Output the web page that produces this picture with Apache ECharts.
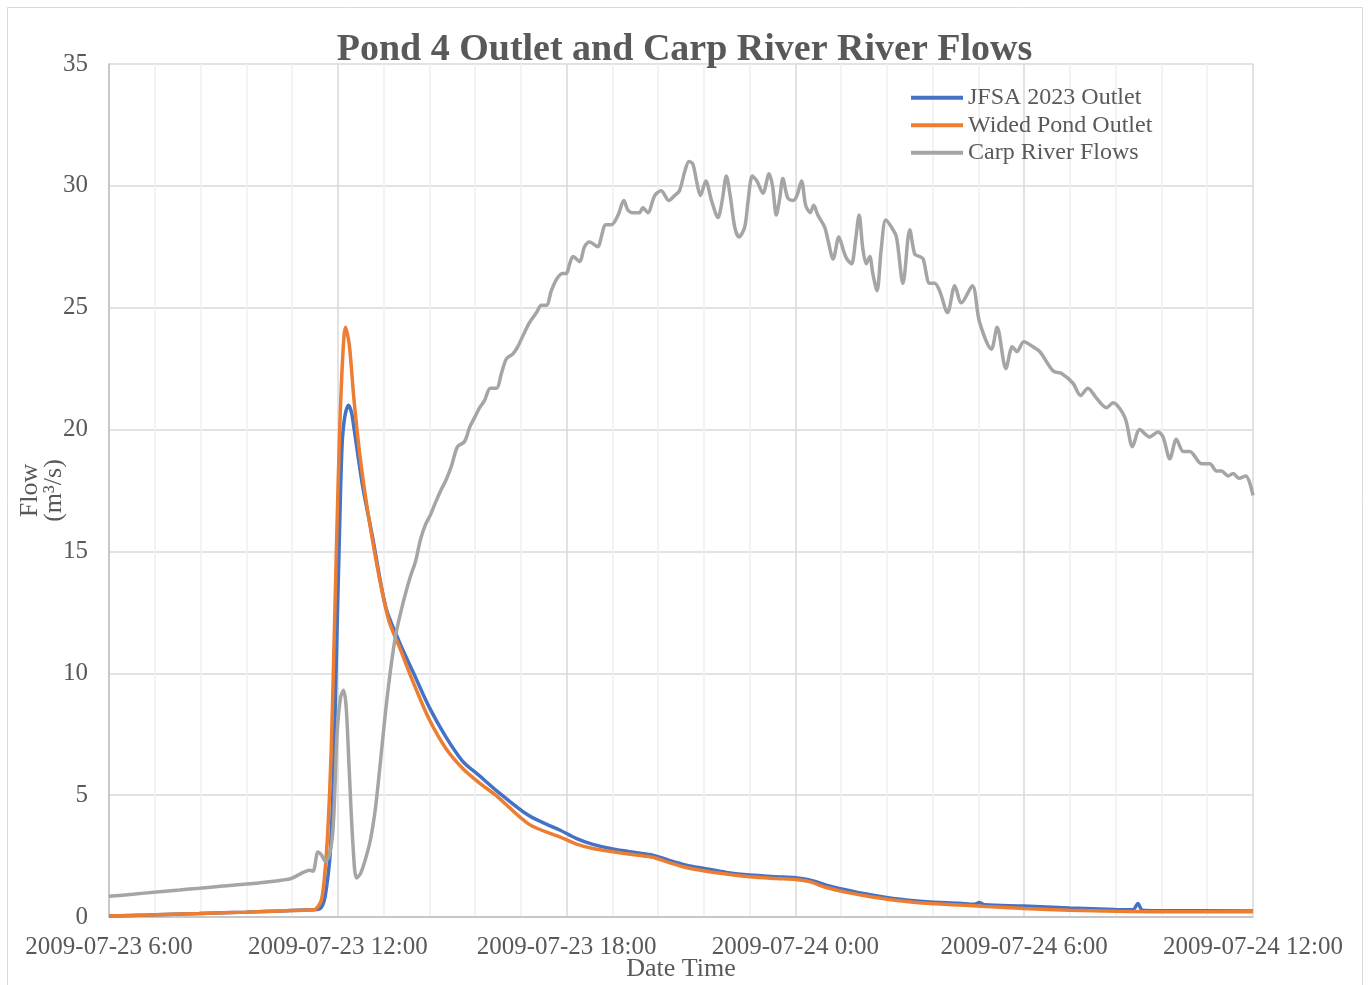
<!DOCTYPE html>
<html>
<head>
<meta charset="utf-8">
<title>Pond 4 Outlet and Carp River River Flows</title>
<script src="https://cdn.jsdelivr.net/npm/echarts@6/dist/echarts.min.js"></script>
<style>
  html, body { margin: 0; padding: 0; background: #ffffff; }
  #chart { width: 1369px; height: 985px; }
</style>
</head>
<body>
<div id="chart"></div>
<script>
// Time is in hours after 2009-07-23 06:00; flows in m³/s.
const xTickLabels = ['2009-07-23 6:00', '2009-07-23 12:00', '2009-07-23 18:00',
  '2009-07-24 0:00', '2009-07-24 6:00', '2009-07-24 12:00'];

const jfsaHours = [0, 1.0, 2.37, 3.6, 4.52, 5.35, 5.5, 5.63, 5.72, 5.8, 5.88, 5.96, 6.04, 6.11, 6.18,
  6.28, 6.36, 6.43, 6.65, 6.91, 7.26, 7.61, 7.96, 8.4, 8.83, 9.27, 9.71, 10.15, 11.02, 11.82,
  12.25, 12.69, 13.21, 13.83, 14.26, 14.62, 15.14, 15.58, 16.19, 16.8, 17.5, 18.0, 18.37, 18.81,
  19.34, 19.86, 20.56, 21.43, 22.3, 22.7, 22.83, 22.96, 23.99, 25.19, 26.39, 26.85, 26.98, 27.1,
  27.63, 30];
const jfsaFlow = [0.04, 0.08, 0.14, 0.2, 0.25, 0.3, 0.32, 0.6, 1.4, 2.6, 5.5, 10.5, 15.5, 19.3, 20.5,
  21.0, 20.7, 20.0, 17.7, 15.6, 12.7, 11.3, 10.1, 8.6, 7.4, 6.4, 5.8, 5.2, 4.15, 3.57,
  3.23, 2.98, 2.79, 2.64, 2.54, 2.36, 2.13, 2.0, 1.83, 1.72, 1.65, 1.61, 1.52, 1.31,
  1.11, 0.94, 0.76, 0.63, 0.56, 0.52, 0.6, 0.5, 0.45, 0.37, 0.31, 0.3, 0.55, 0.28,
  0.26, 0.25];

const widedHours = [0, 1.0, 2.37, 3.6, 4.52, 5.35, 5.43, 5.57, 5.66, 5.74, 5.82, 5.89, 5.97, 6.05, 6.13,
  6.2, 6.3, 6.42, 6.59, 6.81, 7.08, 7.35, 7.61, 7.96, 8.4, 8.84, 9.27, 9.71, 10.14, 11.02,
  11.82, 12.26, 12.69, 13.22, 13.83, 14.26, 14.61, 15.14, 15.58, 16.19, 16.8, 17.5, 18.0, 18.37,
  18.81, 19.34, 19.86, 20.56, 21.43, 22.31, 23.0, 24.0, 25.2, 26.4, 27.6, 30];
const widedFlow = [0.04, 0.08, 0.14, 0.2, 0.25, 0.3, 0.33, 0.7, 1.8, 3.6, 6.5, 10.5, 15.5, 20.0, 23.0,
  24.2, 23.5, 21.3, 18.8, 16.4, 14.0, 12.1, 11.1, 9.7, 8.1, 6.9, 6.1, 5.5, 5.0, 3.8,
  3.29, 2.99, 2.81, 2.68, 2.54, 2.45, 2.27, 2.03, 1.9, 1.76, 1.65, 1.58, 1.54, 1.45,
  1.21, 1.01, 0.86, 0.7, 0.56, 0.49, 0.43, 0.35, 0.28, 0.24, 0.22, 0.22];

const carpHours = [0, 0.62, 1.24, 1.85, 2.37, 2.98, 3.6, 4.21, 4.52, 4.78, 5.08, 5.26, 5.35, 5.48, 5.57,
  5.68, 5.78, 5.87, 5.93, 5.98, 6.07, 6.15, 6.22, 6.3, 6.4, 6.49, 6.6, 6.73, 6.86, 6.99,
  7.12, 7.25, 7.38, 7.51, 7.65, 7.78, 7.91, 8.04, 8.17, 8.3, 8.43, 8.56, 8.7, 8.83, 8.98,
  9.14, 9.32, 9.46, 9.59, 9.72, 9.85, 10.0, 10.16, 10.29, 10.42, 10.59, 10.72, 10.87, 11.03, 11.21,
  11.34, 11.47, 11.6, 11.75, 11.9, 11.99, 12.08, 12.17, 12.34, 12.47, 12.6, 12.82, 12.91, 13.02, 13.17,
  13.35, 13.5, 13.61, 13.74, 13.91, 14.0, 14.13, 14.31, 14.48, 14.68, 14.83, 14.96, 15.1, 15.21, 15.31,
  15.42, 15.51, 15.65, 15.8, 15.97, 16.08, 16.19, 16.29, 16.41, 16.52, 16.67, 16.76, 16.87, 16.99, 17.15,
  17.31, 17.4, 17.5, 17.59, 17.67, 17.8, 17.94, 18.04, 18.16, 18.27, 18.39, 18.48, 18.59, 18.77, 18.85,
  18.99, 19.14, 19.27, 19.35, 19.47, 19.58, 19.67, 19.77, 19.86, 19.95, 20.03, 20.14, 20.25, 20.37, 20.52,
  20.65, 20.82, 21.0, 21.13, 21.26, 21.35, 21.52, 21.65, 21.78, 21.99, 22.18, 22.35, 22.64, 22.83, 23.14,
  23.29, 23.52, 23.69, 23.81, 23.99, 24.23, 24.41, 24.76, 24.98, 25.28, 25.48, 25.67, 25.89, 26.16, 26.33,
  26.64, 26.84, 27.03, 27.29, 27.51, 27.64, 27.82, 27.99, 28.17, 28.34, 28.65, 28.87, 29.04, 29.17, 29.35,
  29.48, 29.63, 29.81, 30.0];
const carpFlow = [0.85, 0.93, 1.03, 1.11, 1.18, 1.27, 1.35, 1.45, 1.51, 1.58, 1.82, 1.92, 1.88, 2.67, 2.55,
  2.28, 2.55, 3.5, 5.5, 7.5, 9.0, 9.3, 8.6, 6.0, 2.9, 1.6, 1.8, 2.4, 3.2, 4.5,
  6.4, 8.4, 10.1, 11.5, 12.5, 13.3, 14.0, 14.6, 15.5, 16.1, 16.5, 17.0, 17.5, 17.9, 18.5,
  19.3, 19.5, 20.1, 20.5, 20.9, 21.2, 21.7, 21.7, 22.3, 22.9, 23.1, 23.4, 23.9, 24.4, 24.8,
  25.1, 25.1, 25.7, 26.2, 26.4, 26.4, 26.8, 27.1, 26.9, 27.5, 27.7, 27.5, 27.9, 28.4, 28.4,
  28.8, 29.4, 29.0, 28.9, 28.9, 29.1, 28.9, 29.6, 29.8, 29.4, 29.6, 29.8, 30.6, 31.0, 30.9,
  30.1, 29.6, 30.2, 29.4, 28.7, 29.4, 30.4, 29.6, 28.3, 27.9, 28.3, 29.4, 30.4, 30.2, 29.7,
  30.5, 30.0, 28.8, 29.5, 30.3, 29.5, 29.4, 29.6, 30.2, 29.2, 28.9, 29.2, 28.8, 28.3, 27.8,
  27.0, 27.9, 27.3, 27.0, 26.8, 27.8, 28.8, 27.4, 26.8, 27.1, 26.4, 25.7, 27.4, 28.6, 28.3,
  27.9, 26.0, 28.2, 27.2, 27.1, 27.0, 26.0, 26.0, 25.7, 24.8, 25.9, 25.2, 25.9, 24.4, 23.3,
  24.2, 22.5, 23.4, 23.2, 23.6, 23.4, 23.2, 22.4, 22.3, 21.9, 21.4, 21.7, 21.3, 20.9, 21.1,
  20.5, 19.3, 20.0, 19.7, 19.9, 19.7, 18.8, 19.6, 19.1, 19.1, 18.6, 18.6, 18.3, 18.3, 18.1,
  18.2, 18.0, 18.1, 17.3];

const zip = (xs, ys) => xs.map((x, i) => [x, ys[i]]);

const FONT = 'Liberation Serif';
const TEXT = '#595959';

const chart = echarts.init(document.getElementById('chart'), null, { renderer: 'canvas' });

chart.setOption({
  backgroundColor: '#ffffff',
  animation: false,
  title: {
    text: 'Pond 4 Outlet and Carp River River Flows',
    left: 'center',
    top: 31,
    padding: 0,
    textStyle: { fontFamily: FONT, fontSize: 38, fontWeight: 'bold', color: TEXT }
  },
  graphic: [{
    type: 'rect',
    shape: { x: 7.5, y: 7.5, width: 1355, height: 995 },
    style: { fill: 'none', stroke: '#d9d9d9', lineWidth: 1 },
    silent: true
  }],
  legend: {
    orient: 'vertical',
    left: 911,
    top: 84,
    padding: 0,
    itemGap: 0,
    itemWidth: 52,
    itemHeight: 4,
    icon: 'rect',
    textStyle: { fontFamily: FONT, fontSize: 24, color: TEXT, lineHeight: 27.5 },
    data: ['JFSA 2023 Outlet', 'Wided Pond Outlet', 'Carp River Flows']
  },
  grid: {
    left: 109, right: 116, top: 64, bottom: 68,
    containLabel: false,
    outerBoundsMode: 'none'
  },
  xAxis: {
    type: 'value',
    min: 0,
    max: 30,
    interval: 6,
    name: 'Date Time',
    nameLocation: 'middle',
    nameGap: 39,
    nameMoveOverlap: false,
    nameTextStyle: { fontFamily: FONT, fontSize: 26, color: TEXT },
    axisLine: { show: true, onZero: false, lineStyle: { color: '#bfbfbf', width: 1.5 } },
    axisTick: { show: false },
    axisLabel: {
      fontFamily: FONT, fontSize: 25, color: TEXT, margin: 18,
      formatter: v => xTickLabels[Math.round(v / 6)]
    },
    splitLine: { show: true, lineStyle: { color: '#d9d9d9', width: 1.5 } },
    minorTick: { show: false, splitNumber: 5 },
    minorSplitLine: { show: true, lineStyle: { color: '#efefef', width: 1.5 } }
  },
  yAxis: {
    type: 'value',
    min: 0,
    max: 35,
    interval: 5,
    name: 'Flow\n(m³/s)',
    nameLocation: 'middle',
    nameRotate: 90,
    nameGap: 43,
    nameMoveOverlap: false,
    nameTextStyle: { fontFamily: FONT, fontSize: 26, color: TEXT, lineHeight: 24 },
    axisLine: { show: true, lineStyle: { color: '#bfbfbf', width: 1.5 } },
    axisTick: { show: false },
    axisLabel: { fontFamily: FONT, fontSize: 25, color: TEXT, margin: 21 },
    splitLine: { show: true, lineStyle: { color: '#d9d9d9', width: 1.5 } }
  },
  series: [
    {
      name: 'JFSA 2023 Outlet',
      type: 'line',
      data: zip(jfsaHours, jfsaFlow),
      showSymbol: false,
      smooth: 0.3,
      color: '#4472C4',
      lineStyle: { width: 3.5, color: '#4472C4' }
    },
    {
      name: 'Wided Pond Outlet',
      type: 'line',
      data: zip(widedHours, widedFlow),
      showSymbol: false,
      smooth: 0.3,
      color: '#ED7D31',
      lineStyle: { width: 3.5, color: '#ED7D31' }
    },
    {
      name: 'Carp River Flows',
      type: 'line',
      data: zip(carpHours, carpFlow),
      showSymbol: false,
      smooth: 0.3,
      color: '#A5A5A5',
      lineStyle: { width: 3.5, color: '#A5A5A5' }
    }
  ]
});
</script>
</body>
</html>
